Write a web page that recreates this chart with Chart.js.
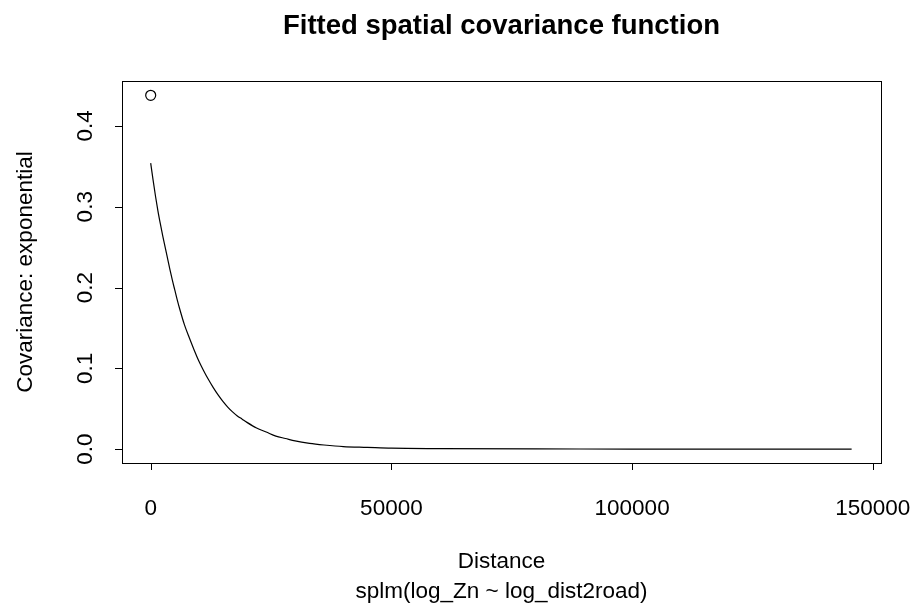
<!DOCTYPE html>
<html>
<head>
<meta charset="utf-8">
<script src="https://cdn.jsdelivr.net/npm/chart.js@4/dist/chart.umd.min.js"></script>
<style>
  html, body { margin: 0; padding: 0; background: #fff; }
  #wrap { width: 914px; height: 606px; position: relative; }
</style>
</head>
<body>
<div id="wrap"><canvas id="grafico"></canvas></div>
<script>
/* fitted exponential covariance curve */
const distance   = [0, 500, 1000, 1500, 2000, 2500, 3000, 3500, 4000, 4500, 5000, 5500,
                    6000, 7000, 8000, 9000, 10000, 11000, 12000, 13000, 14000, 15000,
                    16000, 17000, 18000, 19000, 20000, 22000, 24000, 26000, 28000, 30000,
                    33000, 36000, 40000, 45000, 50000, 60000, 80000, 100000, 120000, 145600];
const covariance = [0.354, 0.333, 0.313, 0.295, 0.279, 0.264, 0.250, 0.236, 0.222, 0.209, 0.197, 0.185,
                    0.174, 0.154, 0.138, 0.123, 0.109, 0.097, 0.086, 0.076, 0.067, 0.059,
                    0.052, 0.046, 0.041, 0.037, 0.033, 0.026, 0.021, 0.016, 0.013, 0.010,
                    0.007, 0.005, 0.003, 0.002, 0.001, 0.0005, 0.0001, 0, 0, 0];

/* empirical point at distance 0 */
const pointDist = [0];
const pointCov  = [0.438];

const xTicks = [0, 50000, 100000, 150000];
const yTicks = [0.0, 0.1, 0.2, 0.3, 0.4];
const yTickLabels = ['0.0', '0.1', '0.2', '0.3', '0.4'];

const title    = 'Fitted spatial covariance function';
const xTitle   = 'Distance';
const subTitle = 'splm(log_Zn ~ log_dist2road)';
const yTitle   = 'Covariance: exponential';

const FONT = '"Liberation Sans", Arial, Helvetica, sans-serif';

// R-style box, ticks and labels drawn on top of the library's scales
const baseAxes = {
  id: 'baseAxes',
  afterDraw(chart) {
    const { ctx, chartArea: a, scales: { x, y } } = chart;
    ctx.save();
    ctx.strokeStyle = '#000';
    ctx.fillStyle = '#000';
    ctx.lineWidth = 1;
    ctx.strokeRect(Math.round(a.left) + 0.5, Math.round(a.top) + 0.5,
                   Math.round(a.right - a.left), Math.round(a.bottom - a.top));

    // x axis
    ctx.beginPath();
    xTicks.forEach(v => {
      const px = Math.round(x.getPixelForValue(v)) + 0.5;
      ctx.moveTo(px, a.bottom);
      ctx.lineTo(px, a.bottom + 7);
    });
    ctx.stroke();
    ctx.font = '22.5px ' + FONT;
    ctx.textAlign = 'center';
    ctx.textBaseline = 'alphabetic';
    xTicks.forEach(v => ctx.fillText(String(v), x.getPixelForValue(v), 515));

    // y axis
    ctx.beginPath();
    yTicks.forEach(v => {
      const py = Math.round(y.getPixelForValue(v)) + 0.5;
      ctx.moveTo(a.left, py);
      ctx.lineTo(a.left - 7, py);
    });
    ctx.stroke();
    yTicks.forEach((v, i) => {
      ctx.save();
      ctx.translate(92, y.getPixelForValue(v));
      ctx.rotate(-Math.PI / 2);
      ctx.fillText(yTickLabels[i], 0, 0);
      ctx.restore();
    });

    // titles
    const cx = (a.left + a.right) / 2;
    const cy = (a.top + a.bottom) / 2;
    ctx.fillText(xTitle, cx, 568);
    ctx.fillText(subTitle, cx, 598);
    ctx.save();
    ctx.translate(32, cy);
    ctx.rotate(-Math.PI / 2);
    ctx.fillText(yTitle, 0, 0);
    ctx.restore();
    ctx.font = 'bold 27.5px ' + FONT;
    ctx.fillText(title, cx, 34);
    ctx.restore();
  }
};

new Chart(document.getElementById('grafico'), {
  type: 'line',
  data: {
    datasets: [
      {
        label: 'fitted',
        data: distance.map((d, i) => ({ x: d, y: covariance[i] })),
        borderColor: '#000',
        borderWidth: 1.2,
        pointRadius: 0,
        cubicInterpolationMode: 'monotone',
        fill: false
      },
      {
        type: 'scatter',
        label: 'empirical',
        data: pointDist.map((d, i) => ({ x: d, y: pointCov[i] })),
        borderColor: '#000',
        backgroundColor: '#fff',
        borderWidth: 1.2,
        pointRadius: 5
      }
    ]
  },
  options: {
    responsive: true,
    maintainAspectRatio: false,
    animation: false,
    devicePixelRatio: 1,
    layout: { padding: { left: 122, right: 33, top: 81, bottom: 143 } },
    plugins: { legend: { display: false }, tooltip: { enabled: false } },
    scales: {
      x: { type: 'linear', min: -5960, max: 151700, display: false },
      y: { type: 'linear', min: -0.0173, max: 0.4557, display: false }
    }
  },
  plugins: [baseAxes]
});
</script>
</body>
</html>
